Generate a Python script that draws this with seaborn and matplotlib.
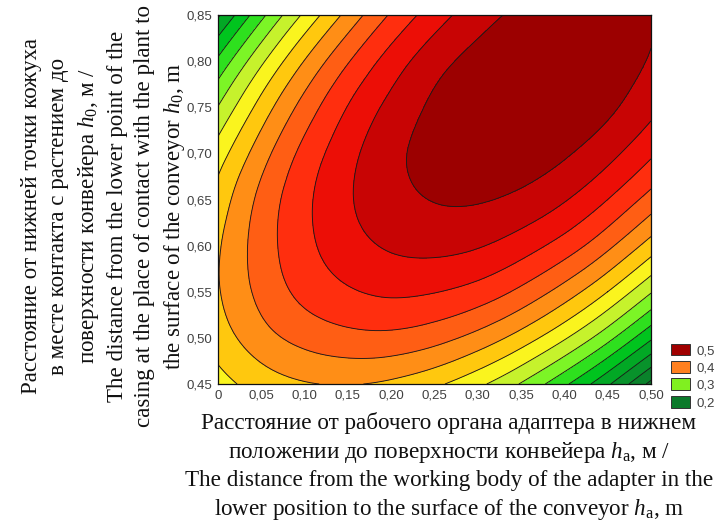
import numpy as np
import matplotlib.pyplot as plt
import matplotlib.tri as mtri
from matplotlib.patches import Patch
from matplotlib.ticker import FuncFormatter, MultipleLocator
import seaborn as sns

# grid of the response surface
h_a = [0.00, 0.05, 0.10, 0.15, 0.20, 0.25, 0.30, 0.35, 0.40, 0.45, 0.50]
h_0 = [0.45, 0.50, 0.55, 0.60, 0.65, 0.70, 0.75, 0.80, 0.85]
z_045 = [0.340, 0.361, 0.373, 0.376, 0.370, 0.355, 0.331, 0.298, 0.255, 0.204, 0.143]
z_050 = [0.362, 0.390, 0.408, 0.417, 0.418, 0.409, 0.391, 0.364, 0.328, 0.283, 0.229]
z_055 = [0.373, 0.407, 0.432, 0.447, 0.454, 0.451, 0.440, 0.419, 0.389, 0.350, 0.302]
z_060 = [0.372, 0.412, 0.443, 0.465, 0.478, 0.482, 0.477, 0.462, 0.439, 0.406, 0.364]
z_065 = [0.360, 0.407, 0.444, 0.472, 0.491, 0.501, 0.502, 0.494, 0.477, 0.450, 0.415]
z_070 = [0.337, 0.389, 0.433, 0.467, 0.493, 0.509, 0.516, 0.514, 0.503, 0.483, 0.454]
z_075 = [0.301, 0.360, 0.410, 0.451, 0.482, 0.505, 0.519, 0.523, 0.518, 0.505, 0.482]
z_080 = [0.255, 0.320, 0.376, 0.423, 0.461, 0.490, 0.509, 0.520, 0.522, 0.514, 0.498]
z_085 = [0.196, 0.268, 0.330, 0.383, 0.428, 0.463, 0.489, 0.506, 0.514, 0.513, 0.502]

levels = [0.0, 0.125, 0.15, 0.175, 0.2, 0.225, 0.25, 0.275, 0.3, 0.325, 0.35,
          0.375, 0.4, 0.425, 0.45, 0.475, 0.5, 0.6]
band_colors = ['#0b6a25', '#0b7428', '#0a822b', '#08922b', '#02a825', '#00c41e',
               '#2ee01e', '#7cf526', '#c6f22c', '#faf41e', '#ffc80e', '#ff8e16',
               '#ff5e14', '#ff2e0e', '#ec0e06', '#c80404', '#9c0000']
legend_labels = ['0,5', '0,4', '0,3', '0,2']
legend_colors = ['#a00000', '#ff8020', '#80f020', '#0b7a2a']

sns.set_theme(style='white')
plt.rcParams['font.family'] = ['Liberation Sans', 'DejaVu Sans']
plt.rcParams['mathtext.fontset'] = 'custom'
plt.rcParams['mathtext.rm'] = 'Liberation Serif'
plt.rcParams['mathtext.it'] = 'Liberation Serif:italic'

Z = np.array([z_045, z_050, z_055, z_060, z_065, z_070, z_075, z_080, z_085])
GX, GY = np.meshgrid(h_a, h_0)
tri = mtri.Triangulation(GX.ravel(), GY.ravel())
tri_f, z_f = mtri.UniformTriRefiner(tri).refine_field(Z.ravel(), subdiv=3)

fig = plt.figure(figsize=(7.16, 5.28), dpi=100)
ax = fig.add_axes([218 / 716, 1 - 384 / 528, 433 / 716, 369 / 528])

ax.tricontourf(tri_f, z_f, levels=levels, colors=band_colors)
ax.tricontour(tri_f, z_f, levels=levels[1:-1], colors='#1a1a1a', linewidths=0.65)

ax.set_xlim(0, 0.5)
ax.set_ylim(0.45, 0.85)
ax.xaxis.set_major_locator(MultipleLocator(0.05))
ax.yaxis.set_major_locator(MultipleLocator(0.05))
ax.xaxis.set_minor_locator(MultipleLocator(0.01))
ax.yaxis.set_minor_locator(MultipleLocator(0.01))
fmt = FuncFormatter(lambda v, p: '0' if abs(v) < 1e-9 else f'{v:.2f}'.replace('.', ','))
ax.xaxis.set_major_formatter(fmt)
ax.yaxis.set_major_formatter(fmt)
ax.tick_params(which='both', direction='in', top=True, right=True, colors='#222222',
               labelcolor='#404040', labelsize=9.5)
ax.tick_params(which='major', length=3.5, width=0.7, pad=4)
ax.tick_params(which='minor', length=2, width=0.6)
for s in ax.spines.values():
    s.set_color('#111111')
    s.set_linewidth(0.9)

ylab = ('Расстояние от нижней точки кожуха\n'
        'в месте контакта с растением до\n'
        'поверхности конвейера $h_0$, м /\n'
        'The distance from the lower point of the\n'
        'casing at the place of contact with the plant to\n'
        'the surface of the conveyor $h_0$, m')
xlab = ('Расстояние от рабочего органа адаптера в нижнем\n'
        'положении до поверхности конвейера $h_\\mathrm{a}$, м /\n'
        'The distance from the working body of the adapter in the\n'
        'lower position to the surface of the conveyor $h_\\mathrm{a}$, m')
fig.text(104 / 716, 1 - 216 / 528, ylab, rotation=90, ha='center', va='center',
         multialignment='center', family='Liberation Serif', fontsize=16.6,
         linespacing=1.37, color='#111111')
fig.text(449 / 716, 1 - 467 / 528, xlab, ha='center', va='center',
         multialignment='center', family='Liberation Serif', fontsize=16.7,
         linespacing=1.33, color='#111111')

handles = [Patch(facecolor=c, edgecolor='#333333', linewidth=0.7) for c in legend_colors]
fig.legend(handles, legend_labels, loc='upper left', bbox_to_anchor=(664 / 716, 1 - 337 / 528),
           frameon=False, fontsize=9.5, handlelength=1.5, handleheight=1.0,
           labelspacing=0.3, handletextpad=0.5, borderpad=0, labelcolor='#404040')

fig.savefig('out.png', dpi=100)
